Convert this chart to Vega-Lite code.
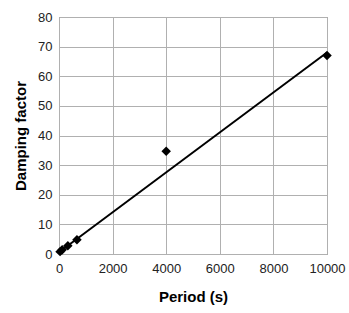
{
  "$schema": "https://vega.github.io/schema/vega-lite/v6.json",
  "autosize": "none",
  "width": 268,
  "height": 237,
  "padding": {"left": 59, "top": 17, "right": 22, "bottom": 59},
  "background": "white",
  "config": {
    "view": {"stroke": "#808080", "strokeWidth": 1},
    "font": "Liberation Sans",
    "axis": {
      "gridColor": "#b0b0b0",
      "gridWidth": 1,
      "domain": false,
      "ticks": false,
      "labelFont": "Liberation Sans",
      "labelFontSize": 13,
      "labelColor": "#222",
      "titleFont": "Liberation Sans",
      "titleFontSize": 15,
      "titleFontWeight": "bold",
      "titleColor": "#000"
    }
  },
  "datasets": {
    "pts": [
      {"period": 40, "damping": 0.8},
      {"period": 120, "damping": 1.4},
      {"period": 330, "damping": 2.8},
      {"period": 670, "damping": 4.8},
      {"period": 4000, "damping": 34.7},
      {"period": 10000, "damping": 67}
    ],
    "fit": [
      {"period": 0, "damping": 0.6},
      {"period": 10000, "damping": 68}
    ]
  },
  "encoding": {
    "x": {
      "field": "period", "type": "quantitative",
      "scale": {"domain": [0, 10000], "nice": false},
      "axis": {"title": "Period (s)", "values": [0, 2000, 4000, 6000, 8000, 10000], "format": "d", "labelPadding": 8, "titlePadding": 14, "labelFlush": false}
    },
    "y": {
      "field": "damping", "type": "quantitative",
      "scale": {"domain": [0, 80], "nice": false},
      "axis": {"title": "Damping factor", "values": [0, 10, 20, 30, 40, 50, 60, 70, 80], "labelPadding": 7, "titlePadding": 9, "labelFlush": false}
    }
  },
  "layer": [
    {
      "data": {"name": "fit"},
      "mark": {"type": "line", "color": "#000", "strokeWidth": 2}
    },
    {
      "data": {"name": "pts"},
      "mark": {"type": "point", "shape": "diamond", "filled": true, "color": "#000", "opacity": 1, "size": 90}
    }
  ]
}
